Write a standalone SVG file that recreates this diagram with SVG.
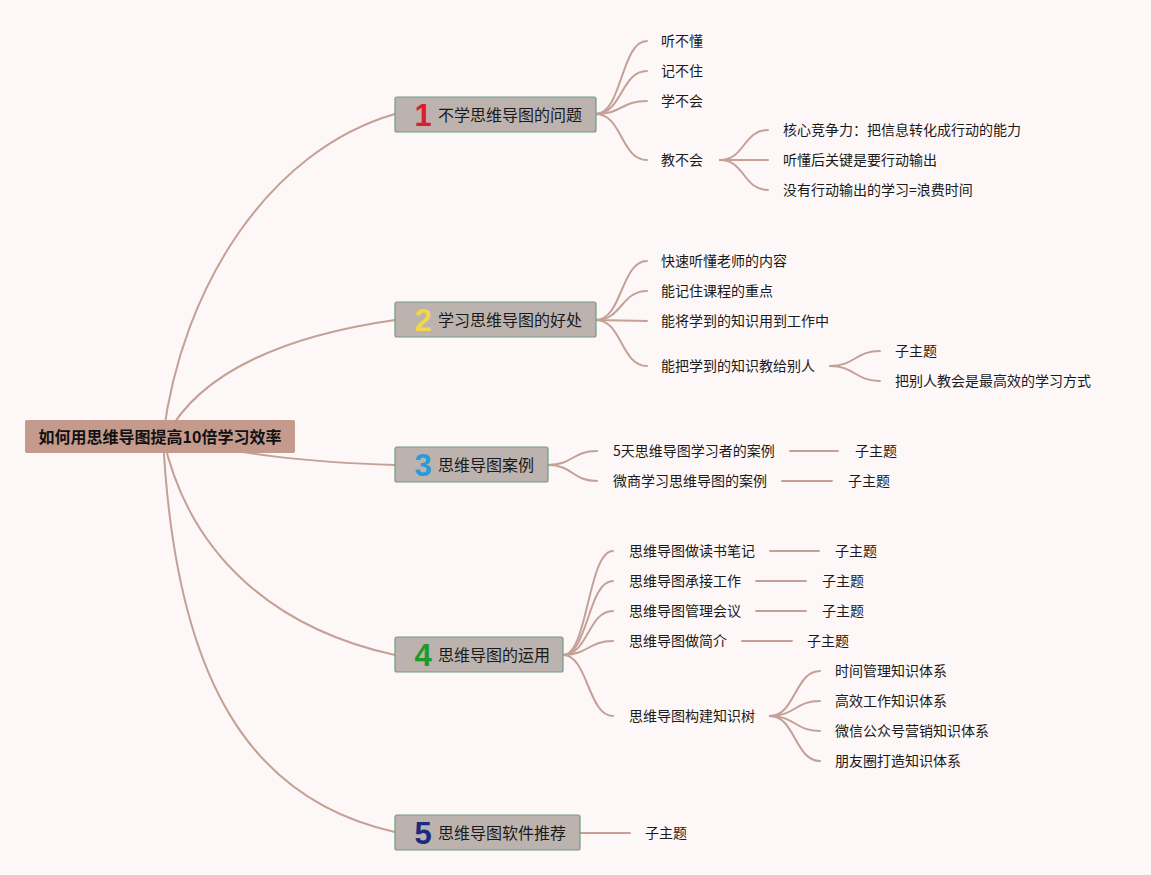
<svg xmlns="http://www.w3.org/2000/svg" width="1151" height="875" viewBox="0 0 1151 875">
<style>
.bg{fill:#fdf7f7}
.ln{fill:none;stroke:#c4a096;stroke-width:2;stroke-linecap:round}
.box{fill:#bcb3af;stroke:#6e9c8b;stroke-width:1.2}
.root{fill:#c49a8d}
.rt{font-family:"Noto Sans CJK SC","Liberation Sans",sans-serif;font-size:16px;font-weight:bold;fill:#111}
.bt{font-family:"Noto Sans CJK SC","Liberation Sans",sans-serif;font-size:16px;fill:#1a1a1a}
.num{font-family:"Liberation Sans","DejaVu Sans",sans-serif;font-size:31px;font-weight:bold}
.t{font-family:"Noto Sans CJK SC","Liberation Sans",sans-serif;font-size:14px;fill:#1a1a1a}
</style>
<rect class="bg" x="0" y="0" width="1151" height="875"/>
<g id="connectors">
<path class="ln" d="M163,437 C182,285 270,150 395,114"/>
<path class="ln" d="M166,437 C200,370 290,335 395,320"/>
<path class="ln" d="M160,437 C250,455 300,462 395,465"/>
<path class="ln" d="M163,437 C190,560 280,630 395,655"/>
<path class="ln" d="M163,437 C175,680 250,800 395,832"/>
<path class="ln" d="M596,114 C622,114 621,41 647,41"/>
<path class="ln" d="M596,114 C622,114 621,71 647,71"/>
<path class="ln" d="M596,114 C622,114 621,101 647,101"/>
<path class="ln" d="M596,114 C622,114 621,160 647,160"/>
<path class="ln" d="M720,160 C745,160 743,130 768,130"/>
<path class="ln" d="M720,160 L768,160"/>
<path class="ln" d="M720,160 C745,160 743,190 768,190"/>
<path class="ln" d="M596,320 C622,320 621,261 647,261"/>
<path class="ln" d="M596,320 C622,320 621,291 647,291"/>
<path class="ln" d="M596,320 L647,321"/>
<path class="ln" d="M596,320 C622,320 621,366 647,366"/>
<path class="ln" d="M830,366 C855,366 855,351 880,351"/>
<path class="ln" d="M830,366 C855,366 855,381 880,381"/>
<path class="ln" d="M548,465 C573,465 572,451 597,451"/>
<path class="ln" d="M548,465 C573,465 572,481 597,481"/>
<path class="ln" d="M790,451 L838,451"/>
<path class="ln" d="M782,481 L832,481"/>
<path class="ln" d="M563,655 C588,655 588,551 613,551"/>
<path class="ln" d="M563,655 C588,655 588,581 613,581"/>
<path class="ln" d="M563,655 C588,655 588,611 613,611"/>
<path class="ln" d="M563,655 C588,655 588,641 613,641"/>
<path class="ln" d="M563,655 C588,655 588,716 613,716"/>
<path class="ln" d="M770,551 L819,551"/>
<path class="ln" d="M756,581 L806,581"/>
<path class="ln" d="M756,611 L806,611"/>
<path class="ln" d="M742,641 L792,641"/>
<path class="ln" d="M770,716 C795,716 795,671 820,671"/>
<path class="ln" d="M770,716 C795,716 795,701 820,701"/>
<path class="ln" d="M770,716 C795,716 795,731 820,731"/>
<path class="ln" d="M770,716 C795,716 795,761 820,761"/>
<path class="ln" d="M580,833 L630,833"/>
</g>
<g id="root">
<rect class="root" x="25" y="420" width="270" height="33" rx="2"/>
<text class="rt" x="160" y="443" text-anchor="middle">如何用思维导图提高10倍学习效率</text>
</g>
<g id="b1">
<rect class="box" x="395" y="97" width="201" height="35" rx="2"/>
<text class="num" x="423" y="126" text-anchor="middle" fill="#d91f2e">1</text>
<text class="bt" x="438" y="121">不学思维导图的问题</text>
</g>
<g id="b1c">
<text class="t" x="661" y="46">听不懂</text>
<text class="t" x="661" y="76">记不住</text>
<text class="t" x="661" y="106">学不会</text>
<text class="t" x="661" y="165">教不会</text>
<text class="t" x="783" y="135">核心竞争力：把信息转化成行动的能力</text>
<text class="t" x="783" y="165">听懂后关键是要行动输出</text>
<text class="t" x="783" y="195">没有行动输出的学习=浪费时间</text>
</g>
<g id="b2">
<rect class="box" x="395" y="302" width="201" height="35" rx="2"/>
<text class="num" x="423" y="331" text-anchor="middle" fill="#f3d64a">2</text>
<text class="bt" x="438" y="326">学习思维导图的好处</text>
</g>
<g id="b2c">
<text class="t" x="661" y="266">快速听懂老师的内容</text>
<text class="t" x="661" y="296">能记住课程的重点</text>
<text class="t" x="661" y="326">能将学到的知识用到工作中</text>
<text class="t" x="661" y="371">能把学到的知识教给别人</text>
<text class="t" x="895" y="356">子主题</text>
<text class="t" x="895" y="386">把别人教会是最高效的学习方式</text>
</g>
<g id="b3">
<rect class="box" x="395" y="447" width="153" height="35" rx="2"/>
<text class="num" x="423" y="476" text-anchor="middle" fill="#2a9bd9">3</text>
<text class="bt" x="438" y="471">思维导图案例</text>
</g>
<g id="b3c">
<text class="t" x="613" y="456">5天思维导图学习者的案例</text>
<text class="t" x="613" y="486">微商学习思维导图的案例</text>
<text class="t" x="855" y="456">子主题</text>
<text class="t" x="848" y="486">子主题</text>
</g>
<g id="b4">
<rect class="box" x="395" y="637" width="168" height="35" rx="2"/>
<text class="num" x="423" y="666" text-anchor="middle" fill="#1e9a2b">4</text>
<text class="bt" x="438" y="661">思维导图的运用</text>
</g>
<g id="b4c">
<text class="t" x="629" y="556">思维导图做读书笔记</text>
<text class="t" x="629" y="586">思维导图承接工作</text>
<text class="t" x="629" y="616">思维导图管理会议</text>
<text class="t" x="629" y="646">思维导图做简介</text>
<text class="t" x="629" y="721">思维导图构建知识树</text>
<text class="t" x="835" y="556">子主题</text>
<text class="t" x="822" y="586">子主题</text>
<text class="t" x="822" y="616">子主题</text>
<text class="t" x="807" y="646">子主题</text>
<text class="t" x="835" y="676">时间管理知识体系</text>
<text class="t" x="835" y="706">高效工作知识体系</text>
<text class="t" x="835" y="736">微信公众号营销知识体系</text>
<text class="t" x="835" y="766">朋友圈打造知识体系</text>
</g>
<g id="b5">
<rect class="box" x="395" y="815" width="185" height="35" rx="2"/>
<text class="num" x="423" y="844" text-anchor="middle" fill="#1b2b82">5</text>
<text class="bt" x="438" y="839">思维导图软件推荐</text>
</g>
<g id="b5c">
<text class="t" x="645" y="838">子主题</text>
</g>
</svg>
